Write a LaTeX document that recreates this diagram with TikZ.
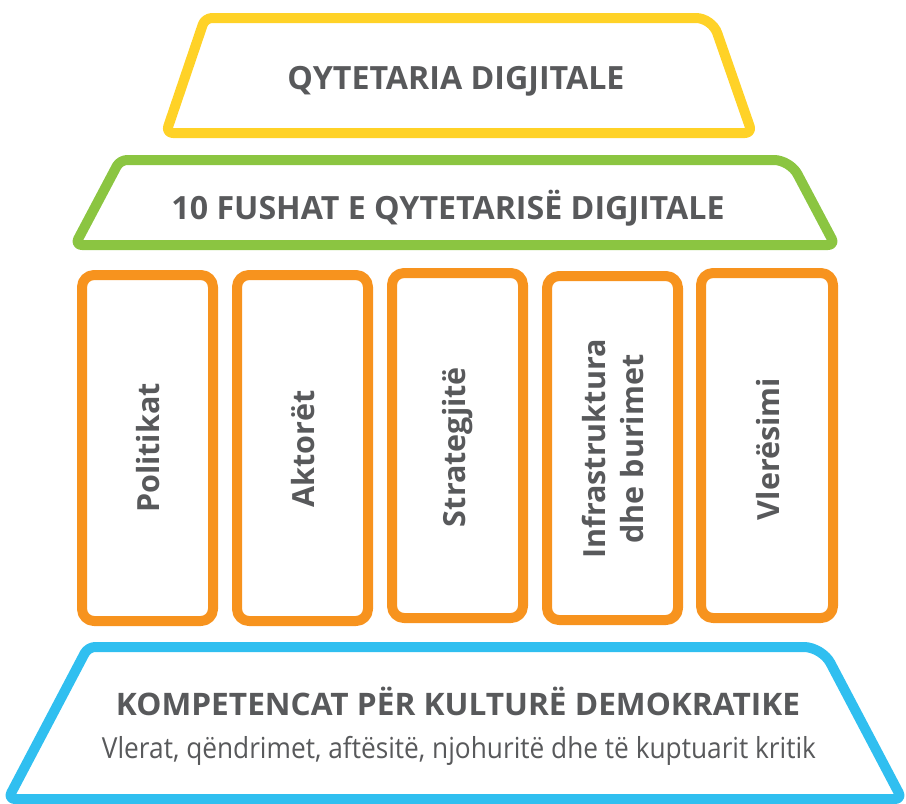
\documentclass[tikz,border=0pt]{standalone}
\usepackage{fontspec}
\setmainfont{Open Sans}
\usepackage{graphicx}
\usetikzlibrary{positioning}

\definecolor{topyellow}{HTML}{FFD227}
\definecolor{areagreen}{HTML}{8BC541}
\definecolor{pillarorange}{HTML}{F7931E}
\definecolor{baseblue}{HTML}{30BFF0}
\definecolor{textgray}{HTML}{58595B}

% squeeze a text to a given width, height kept
\newcommand\squeezeto[2]{\resizebox{#1}{\height}{#2}}

\tikzset{
    frame/.style={line width=10pt, line join=round},
    pillar/.style={frame, draw=pillarorange, rounded corners=12pt},
    pillarlabel/.style={rotate=90, text=textgray, align=center, inner sep=0pt,
        font=\fontsize{30.5}{38}\selectfont\bfseries},
    headline/.style={text=textgray, inner sep=0pt, anchor=base}
}

\begin{document}
\begin{tikzpicture}[x=1pt, y=-1pt]
    \useasboundingbox (0,0) rectangle (906,804);

    % Roof
    \draw[frame, draw=topyellow] (459,133) [rounded corners=7pt] -- (166,133)
        -- (205,18) [rounded corners=16pt] -- (712,18) [rounded corners=7pt] -- (752,133) -- cycle;
    \node[headline, font=\fontsize{32}{36}\selectfont\bfseries] (roof) at (456,89)
        {\squeezeto{337pt}{QYTETARIA DIGJITALE}};

    % Frieze
    \draw[frame, draw=areagreen] (455,245) [rounded corners=7pt] -- (75,245)
        -- (120,160) [rounded corners=16pt] -- (790,160) [rounded corners=7pt] -- (835,245) -- cycle;
    \node[headline, font=\fontsize{32}{36}\selectfont\bfseries] (frieze) at (448,219)
        {\squeezeto{553pt}{10 FUSHAT E QYTETARISË DIGJITALE}};

    % Pillars
    \draw[pillar] (82,275) rectangle (213,621);
    \draw[pillar] (237,275) rectangle (368,621);
    \draw[pillar] (392,273) rectangle (523,618);
    \draw[pillar] (547,276) rectangle (678,620);
    \draw[pillar] (701,273) rectangle (833,618);

    \node[pillarlabel] (politikat) at (148,448) {Politikat};
    \node[pillarlabel] (aktoret) at (303,449) {Aktorët};
    \node[pillarlabel] (strategjite) at (458,447) {Strategjitë};
    \node[pillarlabel] (infrastruktura) at (613,449) {Infrastruktura\\dhe burimet};
    \node[pillarlabel] (vleresimi) at (768,449) {Vlerësimi};

    % Base
    \draw[frame, draw=baseblue] (455,799) [rounded corners=7pt] -- (8,799)
        -- (88,647) [rounded corners=18pt] -- (822,647) [rounded corners=7pt] -- (902,799) -- cycle;
    \node[headline, font=\fontsize{31}{36}\selectfont\bfseries] (competences) at (458,715)
        {\squeezeto{684pt}{KOMPETENCAT PËR KULTURË DEMOKRATIKE}};
    \node[headline, font=\fontsize{29}{34}\selectfont] (values) at (459,758)
        {\squeezeto{714pt}{Vlerat, qëndrimet, aftësitë, njohuritë dhe të kuptuarit kritik}};
\end{tikzpicture}
\end{document}
